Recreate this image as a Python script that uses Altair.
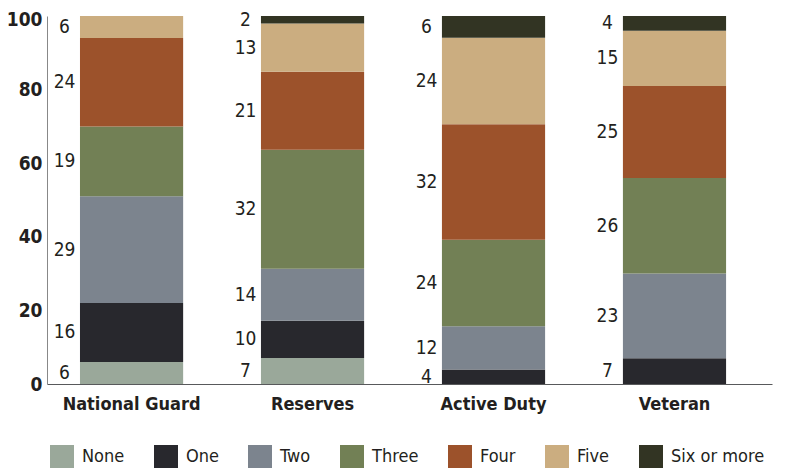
import altair as alt
import pandas as pd

categories = ["National Guard", "Reserves", "Active Duty", "Veteran"]
levels = ["None", "One", "Two", "Three", "Four", "Five", "Six or more"]
colors = ["#9aa89a", "#28282d", "#7c848e", "#728055", "#9c522b", "#cbad80", "#323423"]
national_guard = [6, 16, 29, 19, 24, 6, 0]
reserves = [7, 10, 14, 32, 21, 13, 2]
active_duty = [0, 4, 12, 24, 32, 24, 6]
veteran = [0, 7, 23, 26, 25, 15, 4]
y_ticks = [0, 20, 40, 60, 80, 100]

rows = []
for cat, vals in zip(categories, [national_guard, reserves, active_duty, veteran]):
    for i, (lvl, v) in enumerate(zip(levels, vals)):
        rows.append({"group": cat, "level": lvl, "idx": i, "value": v})
df = pd.DataFrame(rows)

FONT = "DejaVu Sans Condensed, Roboto, sans-serif"
TEXT = "#231f20"

base = alt.Chart(df).transform_stack(
    stack="value", groupby=["group"], as_=["s0", "s1"], offset="normalize",
    sort=[alt.SortField("idx", order="ascending")]
).transform_calculate(
    y0="datum.s0*100", y1="datum.s1*100", ym="(datum.s0+datum.s1)*50"
)

xscale = alt.Scale(paddingInner=0.43, paddingOuter=0.218, align=0.418)
x = alt.X("group:N", sort=categories, title=None, scale=xscale,
          axis=alt.Axis(labelAngle=0, labelFont=FONT, labelFontSize=18,
                        labelFontWeight="bold", labelColor=TEXT, labelPadding=11,
                        ticks=False, domainColor="#58595b", domainWidth=1))
y = alt.Y("y0:Q", scale=alt.Scale(domain=[0, 100], nice=False), title=None,
          axis=alt.Axis(values=y_ticks, labelFont=FONT, labelFontSize=19,
                        labelFontWeight="bold", labelColor=TEXT, labelPadding=5,
                        labelOffset={"condition": {"test": "datum.value == 100", "value": 3}, "value": 0},
                        ticks=False, grid=False, domainColor="#888888", domainWidth=1))

bars = base.mark_bar().encode(
    x=x, y=y, y2="y1:Q",
    color=alt.Color("level:N", sort=levels,
                    scale=alt.Scale(domain=levels, range=colors),
                    legend=alt.Legend(title=None, orient="none", legendX=3, legendY=429,
                                      direction="horizontal", symbolType="square",
                                      symbolSize=576, symbolStrokeWidth=0, symbolOpacity=1,
                                      labelFont=FONT, labelFontSize=18, labelColor=TEXT,
                                      labelOffset=8, columnPadding=29)),
)

labels = base.transform_filter("datum.value > 0").mark_text(
    dx=-67, fontSize=19, font=FONT, color=TEXT, baseline="middle"
).encode(
    x=alt.X("group:N", sort=categories, scale=xscale),
    y=alt.Y("ym:Q"),
    text="value:Q",
)

chart = alt.layer(bars, labels).properties(
    width=725, height=368,
    padding={"left": 39, "top": 8, "right": 5, "bottom": 84},
    autosize=alt.AutoSizeParams(type="none"),
).configure_view(stroke=None)

chart.save("out.html", embed_options={"renderer": "svg", "actions": False})
